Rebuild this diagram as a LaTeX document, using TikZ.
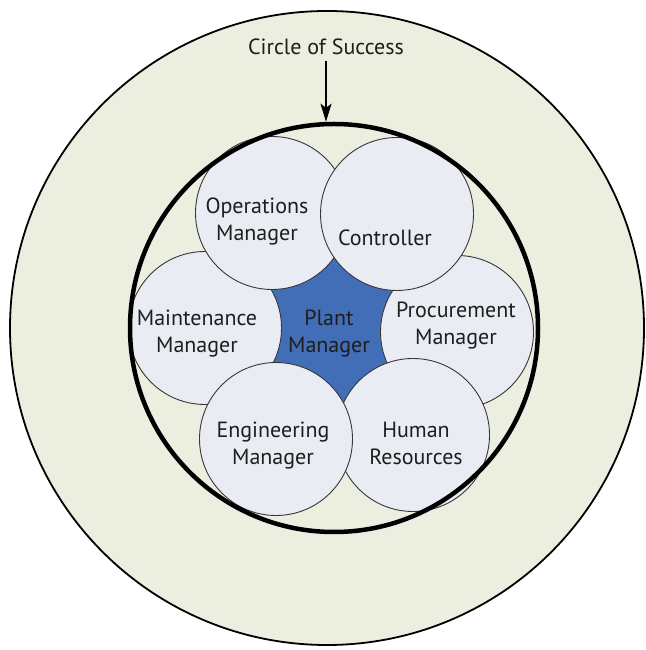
\documentclass[tikz,border=0pt]{standalone}
\usepackage{fontspec}
\setmainfont{PT Sans}
\usetikzlibrary{arrows.meta}
\definecolor{ringfill}{RGB}{236,238,224}
\definecolor{mgrfill}{RGB}{233,237,243}
\definecolor{plantblue}{RGB}{66,110,183}
\definecolor{edgegray}{RGB}{55,55,55}
\definecolor{inkcol}{RGB}{30,30,30}
\tikzset{
  mgr/.style={circle, draw=edgegray, line width=0.9pt, fill=mgrfill,
    minimum size=153pt, inner sep=0pt},
  hub/.style={circle, fill=plantblue, minimum size=150pt, inner sep=0pt},
  ring/.style={circle, draw=black, line width=4.5pt, minimum size=408pt, inner sep=0pt},
  lbl/.style={align=center, text=inkcol, font=\fontsize{22}{27}\selectfont},
  arr/.style={-{Stealth[length=18pt, width=11pt, inset=4pt]}, line width=1.8pt},
}
\begin{document}
\begin{tikzpicture}[x=1pt, y=1pt]
  \useasboundingbox (0,0) rectangle (645,650);
  \fill[white] (0,0) rectangle (645,650);
  \draw[fill=ringfill, line width=1.8pt] (327,322) circle (317);
  \node[hub] (hub) at (333,320) {};
  % the six managers round the plant manager
  \begin{scope}[every node/.style={mgr}]
    \draw
      (205,322) node (maint) {}
      (457,318) node (proc) {}
      (413,215) node (hr) {}
      (276,211) node (eng) {}
      (272,437) node (ops) {}
      (397,436) node (ctrl) {};
  \end{scope}
  \node[ring] (ring) at (334,322) {};
  \begin{scope}[every node/.style={lbl}]
    \draw
      (257,428) node (opstxt) {Operations\\Manager}
      (385,412) node (ctrltxt) {Controller}
      (197,316) node (mainttxt) {Maintenance\\Manager}
      (456,324) node (proctxt) {Procurement\\Manager}
      (329,316) node (planttxt) {Plant\\Manager}
      (273,204) node (engtxt) {Engineering\\Manager}
      (416,207) node (hrtxt) {Human\\Resources}
      (326,603) node (title) {Circle of Success};
  \end{scope}
  \draw[arr, shorten <=3pt] (title.south) -- (title.south |- ring.north);
\end{tikzpicture}
\end{document}
